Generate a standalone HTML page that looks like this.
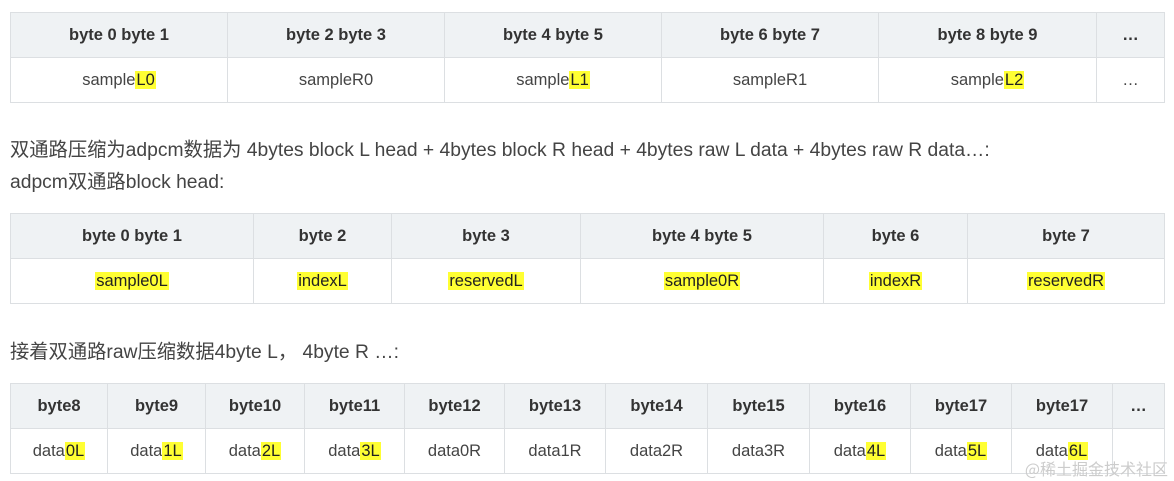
<!DOCTYPE html>
<html><head><meta charset="utf-8"><style>
body{margin:0;width:1174px;height:481px;background:#fff;position:relative;overflow:hidden;font-family:"Liberation Sans","Noto Sans CJK SC",sans-serif;}
table{position:absolute;left:10px;border-collapse:collapse;table-layout:fixed;width:1154px;}
td,th{border:1px solid #dcdfe2;text-align:center;font-size:16.5px;padding:0;height:44px;}
th{background:#eff2f4;color:#333;font-weight:bold;}
td{color:#444;background:#fff;}
mark{background:#ffff33;color:#222;padding:0 1px;}
.p{position:absolute;left:10px;font-size:19.3px;color:#444;white-space:nowrap;}
.wm{position:absolute;right:6px;top:456px;font-size:16px;color:#ccc;font-family:"Noto Sans CJK SC",sans-serif;}
</style></head><body>
<table style="top:12px">
<colgroup><col style="width:217px"><col style="width:217px"><col style="width:217px"><col style="width:217px"><col style="width:218px"><col style="width:68px"></colgroup>
<tr><th>byte 0 byte 1</th><th>byte 2 byte 3</th><th>byte 4 byte 5</th><th>byte 6 byte 7</th><th>byte 8 byte 9</th><th>…</th></tr>
<tr><td>sample<mark>L0</mark></td><td>sampleR0</td><td>sample<mark>L1</mark></td><td>sampleR1</td><td>sample<mark>L2</mark></td><td>…</td></tr>
</table>
<div class="p" style="top:134px">双通路压缩为adpcm数据为 4bytes block L head + 4bytes block R head + 4bytes raw L data + 4bytes raw R data…:</div>
<div class="p" style="top:166px">adpcm双通路block head:</div>
<table style="top:213px">
<colgroup><col style="width:243px"><col style="width:138px"><col style="width:189px"><col style="width:243px"><col style="width:144px"><col style="width:197px"></colgroup>
<tr><th>byte 0 byte 1</th><th>byte 2</th><th>byte 3</th><th>byte 4 byte 5</th><th>byte 6</th><th>byte 7</th></tr>
<tr><td><mark>sample0L</mark></td><td><mark>indexL</mark></td><td><mark>reservedL</mark></td><td><mark>sample0R</mark></td><td><mark>indexR</mark></td><td><mark>reservedR</mark></td></tr>
</table>
<div class="p" style="top:336px">接着双通路raw压缩数据4byte L， 4byte R …:</div>
<table style="top:383px">
<colgroup><col style="width:97px"><col style="width:98px"><col style="width:99px"><col style="width:100px"><col style="width:100px"><col style="width:101px"><col style="width:102px"><col style="width:102px"><col style="width:101px"><col style="width:101px"><col style="width:101px"><col style="width:52px"></colgroup>
<tr><th>byte8</th><th>byte9</th><th>byte10</th><th>byte11</th><th>byte12</th><th>byte13</th><th>byte14</th><th>byte15</th><th>byte16</th><th>byte17</th><th>byte17</th><th>…</th></tr>
<tr><td>data<mark>0L</mark></td><td>data<mark>1L</mark></td><td>data<mark>2L</mark></td><td>data<mark>3L</mark></td><td>data0R</td><td>data1R</td><td>data2R</td><td>data3R</td><td>data<mark>4L</mark></td><td>data<mark>5L</mark></td><td>data<mark>6L</mark></td><td></td></tr>
</table>
<div class="wm">@稀土掘金技术社区</div>
</body></html>
